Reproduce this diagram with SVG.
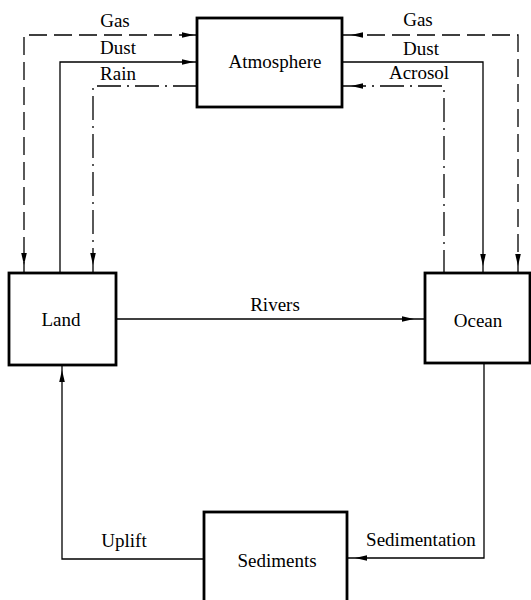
<svg xmlns="http://www.w3.org/2000/svg" xmlns:xlink="http://www.w3.org/1999/xlink" width="531" height="600" viewBox="0 0 531 600">
<style>
.box{fill:#fff;stroke:#000;stroke-width:2.8}
.lbl{font-family:'Liberation Serif','Times New Roman',serif;font-size:19px;fill:#000;text-anchor:middle}
.ln{fill:none;stroke:#000;stroke-width:1.3}
.dash{stroke-dasharray:18,7}
.dd{stroke-dasharray:24,6,2,6}
.ah{fill:#000}
</style>
<defs>
<path id="ah" d="M0,0 L-12,-2.8 L-12,2.8 Z"/>
</defs>
<rect width="531" height="600" fill="#fff"/>
<g id="connectors">
<path class="ln dash" d="M197,35 H24 V273"/>
<path class="ln" d="M197,62 H60 V273"/>
<path class="ln dd" d="M197,86 H93 V273"/>
<path class="ln dash" d="M342,35 H518 V273"/>
<path class="ln" d="M342,62 H483 V273"/>
<path class="ln dd" d="M342,86 H444 V273"/>
<path class="ln" d="M116,319 H425"/>
<path class="ln" d="M484,363 V558 H347"/>
<path class="ln" d="M204,559 H62 V365"/>
<g class="ah">
<use xlink:href="#ah" transform="translate(194,35)"/>
<use xlink:href="#ah" transform="translate(194,62)"/>
<use xlink:href="#ah" transform="translate(24,265) rotate(90)"/>
<use xlink:href="#ah" transform="translate(93,265) rotate(90)"/>
<use xlink:href="#ah" transform="translate(351,35) rotate(180)"/>
<use xlink:href="#ah" transform="translate(351,86) rotate(180)"/>
<use xlink:href="#ah" transform="translate(483,266) rotate(90)"/>
<use xlink:href="#ah" transform="translate(518,266) rotate(90)"/>
<use xlink:href="#ah" transform="translate(414,319)"/>
<use xlink:href="#ah" transform="translate(355,558) rotate(180)"/>
<use xlink:href="#ah" transform="translate(62,370) rotate(-90)"/>
</g>
<text class="lbl" x="115" y="27">Gas</text>
<text class="lbl" x="118" y="54">Dust</text>
<text class="lbl" x="118" y="80">Rain</text>
<text class="lbl" x="418" y="26">Gas</text>
<text class="lbl" x="421" y="55">Dust</text>
<text class="lbl" x="419" y="79">Acrosol</text>
<text class="lbl" x="275" y="311">Rivers</text>
<text class="lbl" x="124" y="547">Uplift</text>
<text class="lbl" x="421" y="546">Sedimentation</text>
</g>
<g id="atmosphere">
<rect class="box" x="197" y="18" width="145" height="89"/>
<text class="lbl" x="275" y="68">Atmosphere</text>
</g>
<g id="land">
<rect class="box" x="9" y="273" width="107" height="92"/>
<text class="lbl" x="61" y="326">Land</text>
</g>
<g id="ocean">
<rect class="box" x="425" y="273" width="105" height="90"/>
<text class="lbl" x="478" y="327">Ocean</text>
</g>
<g id="sediments">
<rect class="box" x="204" y="512" width="143" height="100"/>
<text class="lbl" x="277" y="567">Sediments</text>
</g>
</svg>
